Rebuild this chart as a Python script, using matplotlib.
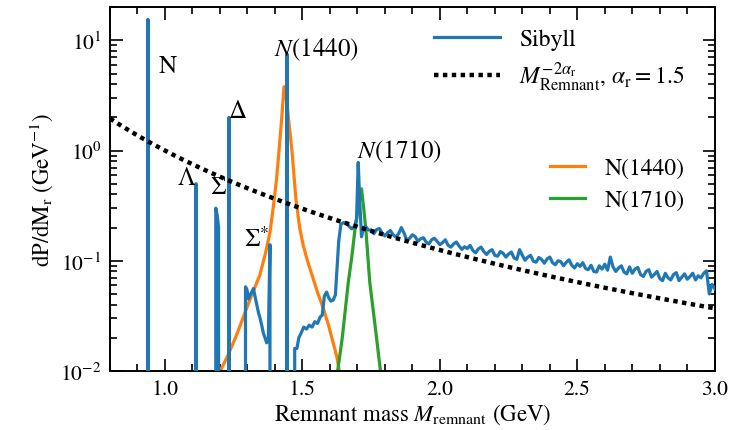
import numpy as np
import matplotlib
matplotlib.use("Agg")
import matplotlib.pyplot as plt
from matplotlib.ticker import MultipleLocator, LogLocator, NullFormatter

plt.rcParams['font.family'] = ['STIXGeneral', 'DejaVu Serif']
plt.rcParams['mathtext.fontset'] = 'stix'

# ---------------- data ----------------
# Sibyll: resonance spikes and low-mass structure (x, y); 0 = below plot
sib_peaks_x = [0.80, 0.930, 0.938, 0.946,
               1.105, 1.113, 1.121,
               1.178, 1.185, 1.190, 1.195, 1.199,
               1.225, 1.233, 1.241,
               1.289, 1.293, 1.298, 1.304, 1.310, 1.316, 1.322, 1.328, 1.334, 1.340,
               1.346, 1.352, 1.358, 1.364, 1.370, 1.376, 1.382, 1.390,
               1.436, 1.444, 1.452,
               1.466, 1.472, 1.480, 1.487, 1.495, 1.505, 1.515, 1.525, 1.535, 1.545,
               1.555, 1.565, 1.572, 1.580, 1.588, 1.596, 1.604, 1.612, 1.620, 1.626,
               1.632, 1.640, 1.650, 1.660, 1.670, 1.680, 1.690, 1.697, 1.703, 1.709,
               1.715, 1.722, 1.730, 1.740]
sib_peaks_y = [0, 0, 15.5, 0,
               0, 0.50, 0,
               0, 0.30, 0.26, 0.20, 0,
               0, 2.0, 0,
               0, 0.058, 0.055, 0.045, 0.049, 0.052, 0.056, 0.047, 0.040, 0.034,
               0.030, 0.026, 0.022, 0.020, 0.018, 0.019, 0.14, 0,
               0, 7.5, 0,
               0, 0.016, 0.016, 0.020, 0.022, 0.025, 0.024, 0.026, 0.025, 0.028,
               0.027, 0.031, 0.032, 0.048, 0.052, 0.046, 0.043, 0.044, 0.049, 0.085,
               0.15, 0.215, 0.222, 0.220, 0.205, 0.195, 0.205, 0.24, 0.78, 0.33,
               0.165, 0.200, 0.205, 0.190]

# Sibyll continuum, 1.75 .. 3.00 GeV in 0.01 GeV steps
sib_cont_start, sib_cont_step = 1.75, 0.01
sib_cont_y = [0.190, 0.176, 0.192, 0.196, 0.178, 0.168, 0.180, 0.188, 0.172, 0.164,
              0.176, 0.200, 0.178, 0.152, 0.160, 0.172, 0.166, 0.150, 0.158, 0.162,
              0.148, 0.142, 0.155, 0.160, 0.150, 0.140, 0.146, 0.155, 0.138, 0.133,
              0.142, 0.148, 0.136, 0.127, 0.134, 0.129, 0.138, 0.124, 0.118, 0.128,
              0.133, 0.121, 0.114, 0.122, 0.126, 0.112, 0.110, 0.121, 0.117, 0.108,
              0.115, 0.120, 0.106, 0.103, 0.126, 0.112, 0.101, 0.108, 0.112, 0.099,
              0.097, 0.107, 0.103, 0.095, 0.104, 0.108, 0.096, 0.092, 0.100, 0.098,
              0.090, 0.097, 0.102, 0.091, 0.086, 0.094, 0.089, 0.096, 0.085, 0.083,
              0.091, 0.080, 0.079, 0.090, 0.084, 0.093, 0.082, 0.108, 0.088, 0.080,
              0.086, 0.090, 0.079, 0.076, 0.088, 0.077, 0.084, 0.087, 0.075, 0.072,
              0.080, 0.083, 0.071, 0.075, 0.080, 0.069, 0.066, 0.077, 0.070, 0.067,
              0.075, 0.078, 0.066, 0.071, 0.076, 0.068, 0.072, 0.077, 0.067, 0.073,
              0.070, 0.077, 0.081, 0.050, 0.061, 0.056]

# N(1440) resonance curve
n1440_x = [1.197, 1.23, 1.26, 1.297, 1.32, 1.345, 1.365, 1.382, 1.395, 1.406,
           1.415, 1.425, 1.433, 1.443, 1.452, 1.462, 1.476, 1.490, 1.503, 1.520,
           1.539, 1.557, 1.576, 1.595, 1.612, 1.625, 1.636]
n1440_y = [0.0095, 0.014, 0.021, 0.037, 0.052, 0.074, 0.115, 0.18, 0.32, 0.55,
           1.0, 2.0, 3.8, 2.8, 1.7, 1.0, 0.37, 0.20, 0.138, 0.097,
           0.069, 0.050, 0.037, 0.026, 0.018, 0.0135, 0.0095]

# N(1710) resonance curve
n1710_x = [1.627, 1.645, 1.667, 1.680, 1.691, 1.703, 1.715, 1.723, 1.731, 1.738,
           1.745, 1.765, 1.785]
n1710_y = [0.0095, 0.020, 0.064, 0.11, 0.19, 0.30, 0.45, 0.30, 0.19, 0.11,
           0.064, 0.025, 0.0095]

alpha_r = 1.5

# ---------------- figure ----------------
fig = plt.figure(figsize=(7.43, 4.31), dpi=100)
ax = fig.add_axes([0.148, 0.137, 0.814, 0.844])

cont_x = sib_cont_start + sib_cont_step * np.arange(len(sib_cont_y))
sib_x = np.concatenate([sib_peaks_x, cont_x])
sib_y = np.concatenate([sib_peaks_y, sib_cont_y])

l_sib, = ax.plot(sib_x, sib_y, color='#1f77b4', lw=2.3, label='Sibyll', zorder=3)
mx = np.linspace(0.8, 3.0, 300)
l_pow, = ax.plot(mx, mx ** (-2 * alpha_r), color='black', lw=3.2,
                 ls=(0, (1.0, 1.0)), zorder=4,
                 label=r'$M_{\mathrm{Remnant}}^{-2\alpha_{\mathrm{r}}}$, $\alpha_{\mathrm{r}}=1.5$')
l_o, = ax.plot(n1440_x, n1440_y, color='#ff7f0e', lw=2.3, label='N(1440)', zorder=2.5)
l_g, = ax.plot(n1710_x, n1710_y, color='#2ca02c', lw=2.3, label='N(1710)', zorder=2.5)

ax.set_yscale('log')
ax.set_xlim(0.8, 3.0)
ax.set_ylim(0.01, 20)

ax.xaxis.set_major_locator(MultipleLocator(0.5))
ax.xaxis.set_minor_locator(MultipleLocator(0.1))
ax.yaxis.set_major_locator(LogLocator(base=10, numticks=10))
ax.yaxis.set_minor_locator(LogLocator(base=10, subs=np.arange(2, 10), numticks=20))
ax.yaxis.set_minor_formatter(NullFormatter())
ax.tick_params(which='both', direction='in', top=True, right=True, width=1.2)
ax.tick_params(which='major', length=9, labelsize=15.5, pad=6)
ax.tick_params(which='minor', length=5)
for s in ax.spines.values():
    s.set_linewidth(1.4)

ax.set_xlabel(r'Remnant mass $M_{\mathrm{remnant}}$ (GeV)', fontsize=16.5, labelpad=2)
ax.set_ylabel(r'$\mathrm{dP/dM_r\ (GeV^{-1})}$', fontsize=16.5, labelpad=4)

ann = dict(fontsize=18, ha='center', va='center')
ax.text(1.011, 5.9, 'N', **ann)
ax.text(1.080, 0.56, r'$\Lambda$', **ann)
ax.text(1.193, 0.47, r'$\Sigma$', **ann)
ax.text(1.265, 2.3, r'$\Delta$', **ann)
ax.text(1.335, 0.155, r'$\Sigma^{*}$', **ann)
ax.text(1.549, 8.4, r'$N(1440)$', **ann)
ax.text(1.851, 1.0, r'$N(1710)$', **ann)

leg1 = ax.legend(handles=[l_sib, l_pow], loc='upper right', frameon=False,
                 fontsize=17, handlelength=2.8, bbox_to_anchor=(0.985, 1.0),
                 labelspacing=0.4, handletextpad=0.8)
ax.add_artist(leg1)
ax.legend(handles=[l_o, l_g], loc='upper right', frameon=False, fontsize=17,
          handlelength=1.5, bbox_to_anchor=(0.985, 0.645), labelspacing=0.45,
          handletextpad=0.8)

fig.savefig('out.png', dpi=100)
